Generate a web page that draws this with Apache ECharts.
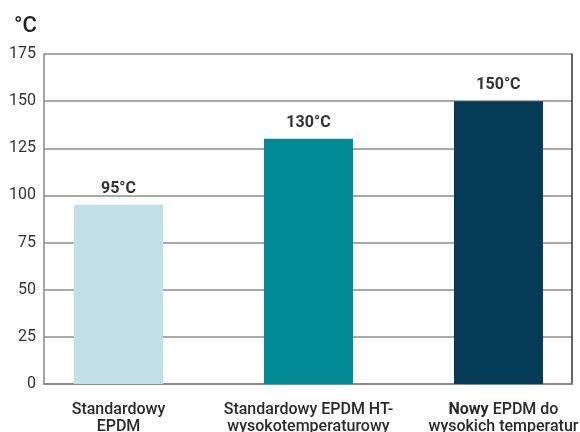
<!DOCTYPE html>
<html>
<head>
<meta charset="utf-8">
<script src="https://cdn.jsdelivr.net/npm/echarts@6/dist/echarts.min.js"></script>
<style>
  html, body { margin: 0; padding: 0; background: #fff; }
  #chart { width: 580px; height: 432px; }
</style>
</head>
<body>
<div id="chart"></div>
<script>
// Maximum service temperature of EPDM grades
const categories = [
  'Standardowy\nEPDM',
  'Standardowy EPDM HT-\nwysokotemperaturowy',
  'Nowy EPDM do\nwysokich temperatur'
];
const temperatures = [95, 130, 150];
const barColors = ['#c1dfe4', '#008a95', '#033a55'];
const yTicks = { min: 0, max: 175, step: 25 };
const unit = '°C';

const font = 'Roboto, "Noto Sans", sans-serif';

// Rich-text markup for the category labels: the word "Nowy" is set in bold,
// and the last label sits slightly right of its bar.
function categoryLabel(i) {
  const lines = categories[i].split('\n');
  const pad = i === categories.length - 1 ? 'p' : null;
  return lines.map(line => {
    let out = line.startsWith('Nowy ')
      ? '{b|Nowy}{n| ' + line.slice(5) + '}'
      : '{n|' + line + '}';
    return pad ? '{p|}' + out : out;
  }).join('\n');
}

const chart = echarts.init(document.getElementById('chart'), null, { renderer: 'canvas' });

const yCommon = {
  type: 'value',
  min: yTicks.min,
  max: yTicks.max,
  interval: yTicks.step
};

const labelText = { fontFamily: font, fontSize: 16, fontWeight: 500, color: '#2a2a2a', lineHeight: 17.5 };

chart.setOption({
  animation: false,
  backgroundColor: '#ffffff',
  title: {
    text: unit,
    left: 9,
    top: 10,
    textStyle: { fontFamily: font, fontSize: 22, fontWeight: 500, color: '#1e1e1e' }
  },
  grid: {
    left: 44, right: 8, top: 54, bottom: 48,
    containLabel: false,
    outerBoundsMode: 'none'
  },
  xAxis: {
    type: 'value',
    min: -0.392,
    max: 2.387,
    axisLine: { show: true, onZero: false, lineStyle: { color: '#8a8a8a', width: 2 } },
    axisTick: { show: false },
    splitLine: { show: false },
    axisLabel: {
      customValues: [0, 1, 2],
      margin: 17,
      hideOverlap: false,
      formatter: v => categoryLabel(Math.round(v)),
      rich: {
        n: labelText,
        b: Object.assign({}, labelText, { fontWeight: 'bold' }),
        p: { width: 10, height: 1, lineHeight: 17.5 }
      }
    }
  },
  yAxis: [
    Object.assign({}, yCommon, {
      axisLine: { show: true, onZero: false, lineStyle: { color: '#8a8a8a', width: 1.5 } },
      axisTick: { show: false },
      axisLabel: { fontFamily: font, fontSize: 16, color: '#333', margin: 8 },
      splitLine: { show: true, lineStyle: { color: '#8c8c8c', width: 1.5 } }
    }),
    Object.assign({}, yCommon, {
      position: 'right',
      axisLine: { show: true, onZero: false, lineStyle: { color: '#333', width: 1.5 } },
      axisTick: { show: false },
      axisLabel: { show: false },
      splitLine: { show: false }
    })
  ],
  series: [{
    type: 'bar',
    yAxisIndex: 0,
    barWidth: 89,
    data: temperatures.map((t, i) => ({
      value: [i, t],
      itemStyle: { color: barColors[i] }
    })),
    label: {
      show: true,
      position: 'top',
      distance: 8,
      formatter: p => p.value[1] + unit,
      fontFamily: font,
      fontSize: 16,
      fontWeight: 'bold',
      color: '#333'
    }
  }]
});
</script>
</body>
</html>
